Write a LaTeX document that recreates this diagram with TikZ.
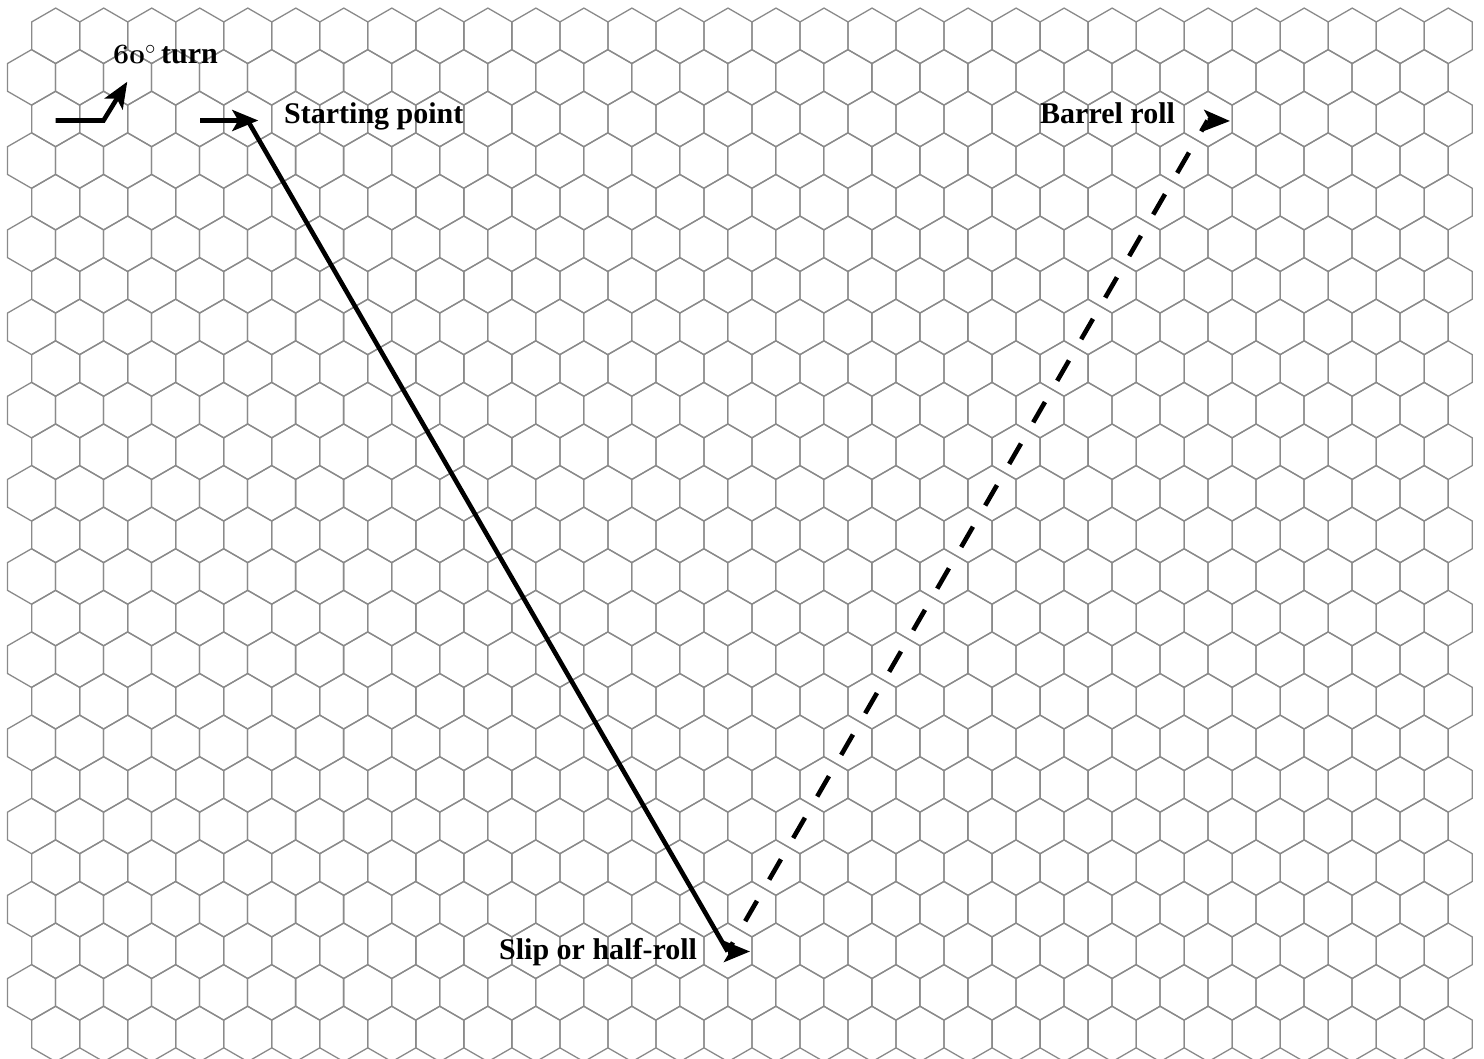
\documentclass[tikz,border=0pt]{standalone}
\usepackage{fontspec}
\usepackage{graphicx}
\setmainfont{Liberation Serif}
\usetikzlibrary{arrows.meta}
\definecolor{hexgray}{RGB}{138,138,138}
\newcommand{\oldsixty}{\scalebox{1.12}{\fontsize{24.88}{24.88}\usefont{OML}{cmm}{b}{it}60}}
\begin{document}
\begin{tikzpicture}[x=1pt,y=-1pt,
  hexline/.style={draw=hexgray,line width=1.3pt,line join=miter},
  mover/.style={draw=black,line width=4.6pt},
  headtip/.style={-{Stealth[length=26pt,width=21pt,inset=6pt]}},
  rolldash/.style={dash pattern=on 23.5pt off 24.5pt,dash phase=13pt},
  lbl/.style={font=\bfseries\fontsize{30}{30}\selectfont,anchor=base west,inner sep=0pt}]
\useasboundingbox (0,0) rectangle (1484,1059);
\clip (0,0) rectangle (1484,1059);
% hex grid
\foreach \k in {0,...,24}{
  \pgfmathsetmacro\cy{35.8+41.59*\k}
  \pgfmathsetmacro\xo{isodd(\k) ? 31.5 : 55.7}
  \foreach \j in {0,...,29}{
    \pgfmathsetmacro\cx{\xo+48.02*\j}
    \draw[hexline] (\cx,\cy-27.72) -- (\cx+24.01,\cy-13.86) -- (\cx+24.01,\cy+13.86)
      -- (\cx,\cy+27.72) -- (\cx-24.01,\cy+13.86) -- (\cx-24.01,\cy-13.86) -- cycle;
  }
}
% coordinates
\coordinate (t0) at (55.7,120.5);
\coordinate (t1) at (103.5,120.5);
\coordinate (t2) at (127.3,81.7);
\coordinate (s0) at (200,120.5);
\coordinate (s1) at (258.3,120.5);
\coordinate (start) at (247.7,120.5);
\coordinate (slip) at (727.7,951.5);
\coordinate (sliptip) at (750,951.5);
\coordinate (barrel) at (1207.5,120.5);
\coordinate (barreltip) at (1230,121);
% labels
\node[lbl] (turnlbl) at (113,64) {\oldsixty$^{\circ}$\,turn};
\node[lbl] (startlbl) at (284,124) {Starting point};
\node[lbl] (barrellbl) at (1040,124) {Barrel roll};
\node[lbl] (sliplbl) at (499,959) {Slip or half-roll};
% arrows
\draw[mover,headtip,line join=miter] (t0) -- (t1) -- (t2);
\draw[mover,headtip] (s0) -- (s1);
\draw[mover] (start) -- (slip);
\draw[mover,headtip] (slip) -- (sliptip);
\draw[mover,rolldash] (slip) -- (barrel);
\draw[mover,headtip] (barrel) -- (barreltip);
\end{tikzpicture}
\end{document}
